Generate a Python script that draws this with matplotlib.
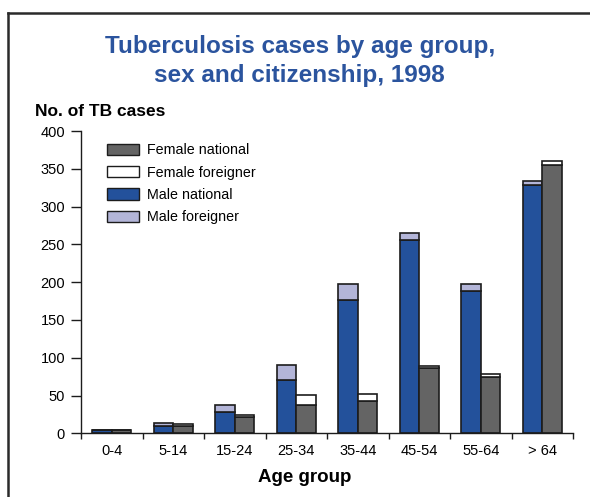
import numpy as np
import matplotlib
matplotlib.use("Agg")
import matplotlib.pyplot as plt
from matplotlib.lines import Line2D
from matplotlib.patches import Patch

plt.rcParams['font.family'] = ['Liberation Sans', 'DejaVu Sans']

# data
age_groups = ['0-4', '5-14', '15-24', '25-34', '35-44', '45-54', '55-64', '> 64']
male_national = [5, 10, 28, 70, 177, 256, 188, 329]
male_foreigner = [0, 3, 10, 20, 20, 9, 9, 5]
female_national = [5, 10, 21, 37, 43, 87, 75, 355]
female_foreigner = [0, 2, 3, 14, 9, 2, 3, 5]
y_ticks = [0, 50, 100, 150, 200, 250, 300, 350, 400]

BLUE = '#23519B'
LIGHT = '#B3B5D8'
GREY = '#646464'
EDGE = '#1c1c1c'
TITLE = '#2B549E'

fig = plt.figure(figsize=(5.9, 4.97), dpi=100)
ax = fig.add_axes([0.1373, 0.1282, 0.8339, 0.6082])

centers = np.arange(len(age_groups)) + 0.5
w = 0.32
kw = dict(width=w, align='edge', edgecolor=EDGE, linewidth=1.2)
ax.bar(centers - w, male_national, color=BLUE, **kw)
ax.bar(centers - w, male_foreigner, bottom=male_national, color=LIGHT, **kw)
ax.bar(centers, female_national, color=GREY, **kw)
ax.bar(centers, female_foreigner, bottom=female_national, color='white', **kw)

ax.set_xlim(0, len(age_groups))
ax.set_ylim(0, 400)
ax.set_yticks(y_ticks)
ax.set_xticks(np.arange(len(age_groups) + 1))
ax.set_xticklabels([])
ax.set_xticks(centers, minor=True)
ax.set_xticklabels(age_groups, minor=True)

for s in ['top', 'right']:
    ax.spines[s].set_visible(False)
for s in ['left', 'bottom']:
    ax.spines[s].set_linewidth(1.0)
    ax.spines[s].set_color(EDGE)

ax.tick_params(axis='y', length=7.5, width=1.0, color=EDGE, labelsize=10.5, pad=4)
ax.tick_params(axis='x', which='major', length=4.5, width=1.0, color=EDGE)
ax.tick_params(axis='x', which='minor', length=0, labelsize=10.5, pad=8)

handles = [
    Patch(facecolor=GREY, edgecolor=EDGE, linewidth=1.0, label='Female national'),
    Patch(facecolor='white', edgecolor=EDGE, linewidth=1.0, label='Female foreigner'),
    Patch(facecolor=BLUE, edgecolor=EDGE, linewidth=1.0, label='Male national'),
    Patch(facecolor=LIGHT, edgecolor=EDGE, linewidth=1.0, label='Male foreigner'),
]
ax.legend(handles=handles, loc='upper left', bbox_to_anchor=(0.052, 0.959),
          frameon=False, fontsize=10.3, borderpad=0, borderaxespad=0,
          handlelength=2.3, handleheight=0.82, handletextpad=0.52,
          labelspacing=0.58)

fig.text(0.508, (497 - 53.3) / 497, 'Tuberculosis cases by age group,',
         ha='center', va='baseline', color=TITLE, fontsize=17.5,
         fontweight='bold')
fig.text(0.508, (497 - 81.7) / 497, 'sex and citizenship, 1998',
         ha='center', va='baseline', color=TITLE, fontsize=17.5,
         fontweight='bold')
fig.text(35 / 590, (497 - 115.7) / 497, 'No. of TB cases', ha='left',
         va='baseline', fontsize=12.5, fontweight='bold')
fig.text(305 / 590, (497 - 481.7) / 497, 'Age group', ha='center',
         va='baseline', fontsize=13.5, fontweight='bold')

# outer frame, only left and top edges visible in the crop
x0 = 8 / 590
y0 = 1 - 13.3 / 497
fig.add_artist(Line2D([x0, x0], [0, y0], color='#2a2a2a', linewidth=1.8))
fig.add_artist(Line2D([x0, 1], [y0, y0], color='#2a2a2a', linewidth=1.8))

fig.savefig('out.png', dpi=100)
